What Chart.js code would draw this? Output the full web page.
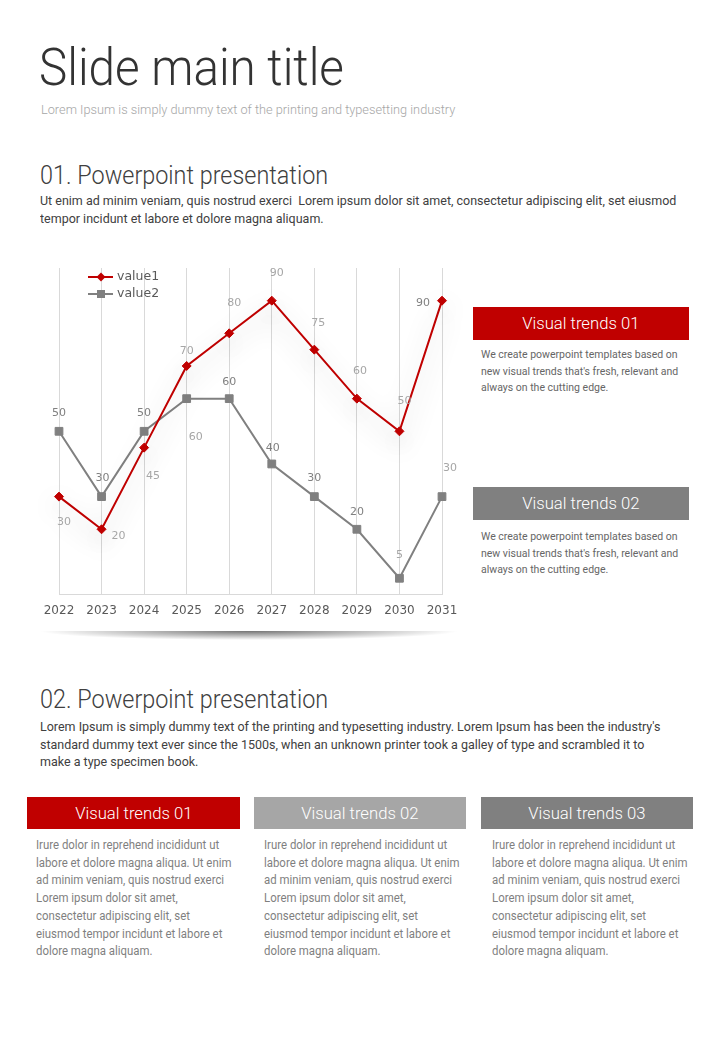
<!DOCTYPE html>
<html>
<head>
<meta charset="utf-8">
<script src="https://cdn.jsdelivr.net/npm/chart.js@4/dist/chart.umd.min.js"></script>
<style>
  html, body { margin: 0; padding: 0; background: #fff; }
  body { width: 720px; height: 1040px; position: relative; overflow: hidden;
         font-family: "Roboto", sans-serif; }
  .abs { position: absolute; white-space: nowrap; transform-origin: 0 0; }
  #title { left: 39px; top: 38px; font-size: 52px; color: #333; line-height: 60px; font-weight: 300; transform: scaleX(0.915); }
  #sub { left: 41px; top: 101px; font-size: 13.5px; color: #a6a6a6; font-weight: 300; transform: scaleX(0.944); }
  .h2 { font-size: 25px; color: #404040; line-height: 30px; font-weight: 300; transform: scaleX(0.936); }
  .para { font-size: 13.5px; color: #404040; line-height: 17.5px; transform: scaleX(0.925); }
  .box { position: absolute; color: #fff; text-align: center; font-size: 17px; font-weight: 300; }
  .box span { display: inline-block; transform: scaleX(0.98); }
  .small { font-size: 10.5px; color: #666; line-height: 16.5px; }
  .body { font-size: 12px; color: #7f7f7f; line-height: 17.7px; transform: scaleX(0.95); }
  #chartWrap { position: absolute; left: 30px; top: 255px; width: 440px; height: 380px; }
  #floorShadow { position: absolute; left: 40px; top: 631px; width: 418px; height: 9px;
    background: radial-gradient(ellipse 50% 100% at 50% 0%, rgba(0,0,0,0.55), rgba(0,0,0,0) 100%); }
</style>
</head>
<body>
<div id="title" class="abs">Slide main title</div>
<div id="sub" class="abs">Lorem Ipsum is simply dummy text of the printing and typesetting industry</div>

<div class="abs h2" style="left:40px;top:161px;">01. Powerpoint presentation</div>
<div class="abs para" style="left:40px;top:192px;">Ut enim ad minim veniam, quis nostrud exerci&nbsp; Lorem ipsum dolor sit amet, consectetur adipiscing elit, set eiusmod<br>tempor incidunt et labore et dolore magna aliquam.</div>

<div id="floorShadow"></div>
<div id="chartWrap"><canvas id="c"></canvas></div>

<div class="box" style="left:473px;top:307px;width:216px;height:33px;line-height:33px;background:#c00000;"><span>Visual trends 01</span></div>
<div class="abs small" style="left:481px;top:347px;">We create powerpoint templates based on<br>new visual trends that's fresh, relevant and<br>always on the cutting edge.</div>
<div class="box" style="left:473px;top:487px;width:216px;height:33px;line-height:33px;background:#808080;"><span>Visual trends 02</span></div>
<div class="abs small" style="left:481px;top:529px;">We create powerpoint templates based on<br>new visual trends that's fresh, relevant and<br>always on the cutting edge.</div>

<div class="abs h2" style="left:40px;top:685px;">02. Powerpoint presentation</div>
<div class="abs para" style="left:40px;top:718px;">Lorem Ipsum is simply dummy text of the printing and typesetting industry. Lorem Ipsum has been the industry's<br>standard dummy text ever since the 1500s, when an unknown printer took a galley of type and scrambled it to<br>make a type specimen book.</div>

<div class="box" style="left:27px;top:797px;width:213px;height:32px;line-height:32px;background:#c00000;"><span>Visual trends 01</span></div>
<div class="box" style="left:254px;top:797px;width:212px;height:32px;line-height:32px;background:#a6a6a6;"><span>Visual trends 02</span></div>
<div class="box" style="left:481px;top:797px;width:212px;height:32px;line-height:32px;background:#808080;"><span>Visual trends 03</span></div>
<div class="abs body" style="left:36px;top:837px;">Irure dolor in reprehend incididunt ut<br>labore et dolore magna aliqua. Ut enim<br>ad minim veniam, quis nostrud exerci<br>Lorem ipsum dolor sit amet,<br>consectetur adipiscing elit, set<br>eiusmod tempor incidunt et labore et<br>dolore magna aliquam.</div>
<div class="abs body" style="left:264px;top:837px;">Irure dolor in reprehend incididunt ut<br>labore et dolore magna aliqua. Ut enim<br>ad minim veniam, quis nostrud exerci<br>Lorem ipsum dolor sit amet,<br>consectetur adipiscing elit, set<br>eiusmod tempor incidunt et labore et<br>dolore magna aliquam.</div>
<div class="abs body" style="left:492px;top:837px;">Irure dolor in reprehend incididunt ut<br>labore et dolore magna aliqua. Ut enim<br>ad minim veniam, quis nostrud exerci<br>Lorem ipsum dolor sit amet,<br>consectetur adipiscing elit, set<br>eiusmod tempor incidunt et labore et<br>dolore magna aliquam.</div>

<script>
// ---- data ----
const categories = ['2022','2023','2024','2025','2026','2027','2028','2029','2030','2031'];
const value1 = [30, 20, 45, 70, 80, 90, 75, 60, 50, 90];
const value2 = [50, 30, 50, 60, 60, 40, 30, 20, 5, 30];
const seriesNames = ['value1', 'value2'];

// ---- label styling (offsets in px from the point, colours) ----
const LIGHT = '#a6a6a6', DARK = '#808080';
const labelStyle1 = [
  [5, 26, LIGHT], [17, 7, LIGHT], [9, 29, LIGHT], [0, -15, LIGHT], [5, -30, LIGHT],
  [5, -28, LIGHT], [4, -27, LIGHT], [3, -27, LIGHT], [5, -30, LIGHT], [-19, 2, DARK]
];
const labelStyle2 = [
  [0, -18, DARK], [1, -18, DARK], [0, -18, DARK], [9, 39, LIGHT], [0, -16, DARK],
  [1, -16, DARK], [0, -18, DARK], [0, -17, DARK], [0, -23, LIGHT], [8, -28, LIGHT]
];

const RED = '#c00000', GRAY = '#808080';

const shadowPlugin = {
  id: 'shadow',
  beforeDatasetDraw(chart, args) {
    if (args.index === 0) {
      const ctx = chart.ctx;
      ctx.save();
      ctx.shadowColor = 'rgba(0,0,0,0.3)';
      ctx.shadowBlur = 26;
      ctx.shadowOffsetX = 0;
      ctx.shadowOffsetY = 10;
    }
  },
  afterDatasetDraw(chart, args) {
    if (args.index === 0) chart.ctx.restore();
  }
};

const labelPlugin = {
  id: 'pointLabels',
  afterDatasetsDraw(chart) {
    const ctx = chart.ctx;
    const styles = [labelStyle1, labelStyle2];
    ctx.save();
    ctx.font = '11px "DejaVu Sans", sans-serif';
    ctx.textAlign = 'center';
    ctx.textBaseline = 'middle';
    chart.data.datasets.forEach((ds, di) => {
      const meta = chart.getDatasetMeta(di);
      meta.data.forEach((pt, i) => {
        const s = styles[di][i];
        ctx.fillStyle = s[2];
        ctx.fillText(String(ds.data[i]), pt.x + s[0], pt.y + s[1]);
      });
    });
    ctx.restore();
  }
};

const legendPlugin = {
  id: 'innerLegend',
  afterDraw(chart) {
    const ctx = chart.ctx;
    ctx.save();
    ctx.font = '12.5px "DejaVu Sans", sans-serif';
    ctx.textBaseline = 'middle';
    chart.data.datasets.forEach((ds, di) => {
      const y = 22 + di * 17;
      const x0 = 58, x1 = 83, xm = 71;
      ctx.strokeStyle = ds.borderColor;
      ctx.lineWidth = 2;
      ctx.beginPath(); ctx.moveTo(x0, y); ctx.lineTo(x1, y); ctx.stroke();
      ctx.fillStyle = ds.borderColor;
      ctx.beginPath();
      if (di === 0) {
        ctx.moveTo(xm - 4.5, y); ctx.lineTo(xm, y - 4.5); ctx.lineTo(xm + 4.5, y); ctx.lineTo(xm, y + 4.5);
        ctx.closePath();
      } else {
        ctx.rect(xm - 4, y - 4, 8, 8);
      }
      ctx.fill();
      ctx.fillStyle = '#595959';
      ctx.fillText(ds.label, 87, y);
    });
    ctx.restore();
  }
};

new Chart(document.getElementById('c'), {
  type: 'line',
  data: {
    labels: categories,
    datasets: [
      { label: seriesNames[0], data: value1, borderColor: RED, backgroundColor: RED,
        borderWidth: 2, pointStyle: 'rectRot', pointRadius: 4.5, pointHoverRadius: 4.5,
        pointBorderWidth: 1, tension: 0, clip: false },
      { label: seriesNames[1], data: value2, borderColor: GRAY, backgroundColor: GRAY,
        borderWidth: 2, pointStyle: 'rect', pointRadius: 5.5, pointHoverRadius: 5.5,
        pointBorderWidth: 1, tension: 0, clip: false }
    ]
  },
  options: {
    responsive: true,
    maintainAspectRatio: false,
    animation: false,
    events: [],
    layout: { padding: { left: 29, right: 28, top: 13, bottom: 8 } },
    plugins: { legend: { display: false }, tooltip: { enabled: false } },
    scales: {
      x: {
        offset: false,
        grid: { color: '#d9d9d9', lineWidth: 1, drawTicks: false },
        border: { display: true, color: '#d9d9d9', width: 1 },
        ticks: { color: '#595959', font: { family: '"DejaVu Sans", sans-serif', size: 12 }, padding: 9, maxRotation: 0, autoSkip: false }
      },
      y: { display: false, min: 0, max: 100 }
    }
  },
  plugins: [shadowPlugin, labelPlugin, legendPlugin]
});
</script>
</body>
</html>
